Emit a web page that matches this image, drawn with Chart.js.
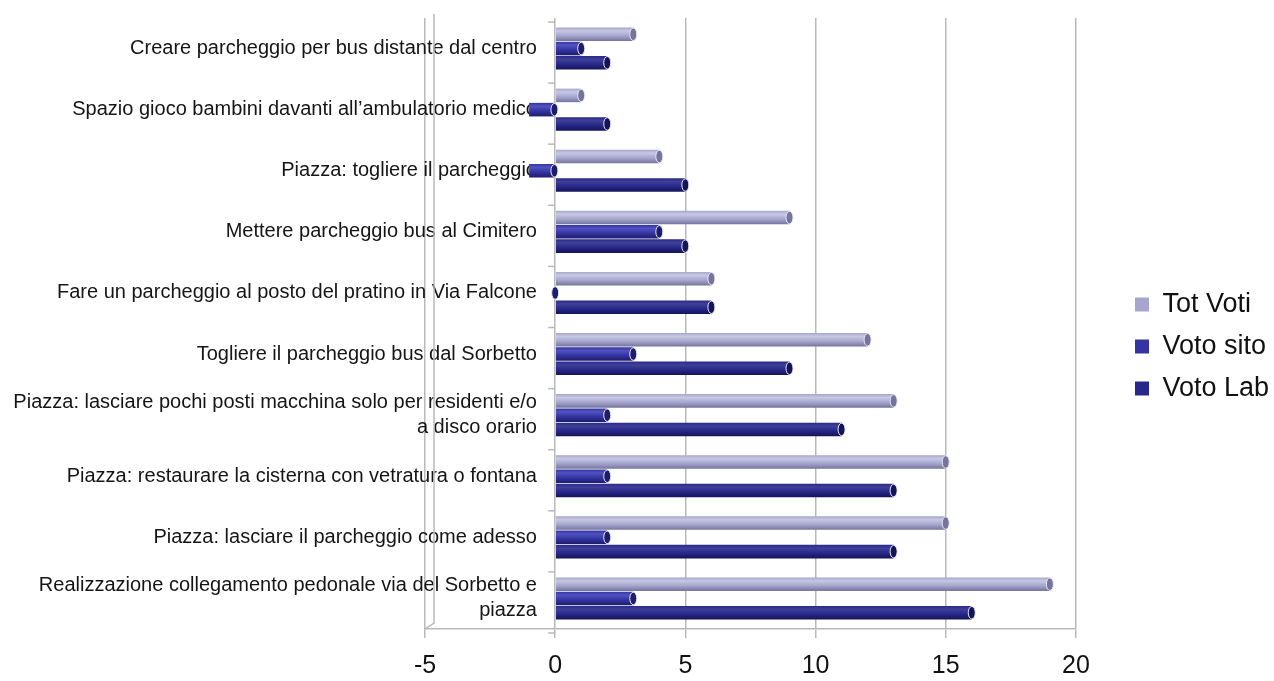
<!DOCTYPE html>
<html>
<head>
<meta charset="utf-8">
<title>Voti proposte</title>
<script src="https://cdn.jsdelivr.net/npm/chart.js@4"></script>
<style>
    html, body { margin: 0; padding: 0; background: #ffffff; }
    #chart { display: block; }
</style>
</head>
<body>
<canvas id="chart" width="1274" height="681"></canvas>
<script>

/* ---------------- DATA ---------------- */

const categories = [
    "Creare parcheggio per bus distante dal centro",
    "Spazio gioco bambini davanti all\u2019ambulatorio medico",
    "Piazza: togliere il parcheggio",
    "Mettere parcheggio bus al Cimitero",
    "Fare un parcheggio al posto del pratino in Via Falcone",
    "Togliere il parcheggio bus dal Sorbetto",
    ["Piazza: lasciare pochi posti macchina solo per residenti e/o", "a disco orario"],
    "Piazza: restaurare la cisterna con vetratura o fontana",
    "Piazza: lasciare il parcheggio come adesso",
    ["Realizzazione collegamento pedonale via del Sorbetto e", "piazza"]
];

const totVoti  = [3, 1, 4, 9, 6, 12, 13, 15, 15, 19];
const votoSito = [1, -1, -1, 4, 0, 3, 2, 2, 2, 3];
const votoLab  = [2, 2, 5, 5, 6, 9, 11, 13, 13, 16];

const xTicks = [-5, 0, 5, 10, 15, 20];

/* ---------------- TUBE LOOK ---------------- */

// colours per series: top highlight, body, bottom shade
const tubeColors = [
    { top: "#c8c8e4", mid: "#a6a6cf", low: "#74749c" },
    { top: "#5252c0", mid: "#3434a2", low: "#1d1d6c" },
    { top: "#40409a", mid: "#28288a", low: "#14145a" }
];

const gridGray = "#b9b9b9";

const tubePlugin = {
    id: "tube",
    afterLayout(chart) {
        // legend sits a bit away from the plot, like the original
        const lg = chart.legend;
        const dx = 1120 - lg.left;
        lg.left += dx;
        lg.right += dx;
        lg.top -= 3;
        lg.bottom -= 3;
    },
    beforeDatasetsDraw(chart) {
        const ctx = chart.ctx;
        const yScale = chart.scales.y;
        const xScale = chart.scales.x;
        const x0 = xScale.getPixelForValue(0);

        ctx.save();
        ctx.strokeStyle = gridGray;
        ctx.lineWidth = 1.5;

        // back-wall edge next to the -5 line
        ctx.beginPath();
        ctx.moveTo(xScale.left + 9, yScale.top - 4);
        ctx.lineTo(xScale.left + 9, yScale.bottom - 6);
        ctx.lineTo(xScale.left, yScale.bottom);
        ctx.stroke();

        // small category ticks on the value-0 wall
        for (let i = 0; i <= categories.length; i++) {
            const y = i === 0 ? yScale.top
                : i === categories.length ? yScale.bottom
                : (yScale.getPixelForTick(i - 1) + yScale.getPixelForTick(i)) / 2;
            ctx.beginPath();
            ctx.moveTo(x0 - 7, y + 4);
            ctx.lineTo(x0, y + 4);
            ctx.stroke();
        }
        ctx.restore();

        chart.data.datasets.forEach((ds, i) => {
            const c = tubeColors[i];
            chart.getDatasetMeta(i).data.forEach((bar) => {
                const p = bar.getProps(["y", "height"], true);
                const g = ctx.createLinearGradient(0, p.y - p.height / 2, 0, p.y + p.height / 2);
                g.addColorStop(0, c.mid);
                g.addColorStop(0.25, c.top);
                g.addColorStop(0.6, c.mid);
                g.addColorStop(1, c.low);
                bar.options = Object.assign({}, bar.options, { backgroundColor: g });
            });
        });
    },
    afterDatasetsDraw(chart) {
        const ctx = chart.ctx;
        chart.data.datasets.forEach((ds, i) => {
            const c = tubeColors[i];
            chart.getDatasetMeta(i).data.forEach((bar) => {
                const p = bar.getProps(["x", "y", "base", "height"], true);
                const endX = Math.max(p.x, p.base);
                ctx.save();
                ctx.beginPath();
                ctx.ellipse(endX, p.y, 3.5, p.height / 2 - 0.5, 0, 0, Math.PI * 2);
                ctx.fillStyle = c.low;
                ctx.fill();
                ctx.lineWidth = 1;
                ctx.strokeStyle = "#e8e8f4";
                ctx.stroke();
                ctx.restore();
            });
        });
    }
};

/* ---------------- CHART ---------------- */

function series(label, values, i) {
    return {
        label: label,
        data: values,
        backgroundColor: tubeColors[i].mid,
        borderWidth: 0,
        categoryPercentage: 0.7,
        barPercentage: 0.95
    };
}

const chart = new Chart(document.getElementById("chart"), {
    type: "bar",
    data: {
        labels: categories,
        datasets: [
            series("Tot Voti", totVoti, 0),
            series("Voto sito", votoSito, 1),
            series("Voto Lab", votoLab, 2)
        ]
    },
    options: {
        indexAxis: "y",
        responsive: false,
        animation: false,
        devicePixelRatio: 1,
        layout: {
            padding: { left: 425, top: 18, right: 39, bottom: 0 }
        },
        scales: {
            x: {
                type: "linear",
                min: -5,
                max: 20,
                afterBuildTicks(scale) {
                    scale.ticks = xTicks.map((v) => ({ value: v }));
                },
                afterFit(scale) {
                    scale.height = Math.min(scale.height, 52);
                },
                grid: {
                    color: gridGray,
                    lineWidth: 1.5,
                    tickLength: 9
                },
                border: { color: gridGray, width: 1.5 },
                ticks: {
                    color: "#111111",
                    padding: 13,
                    font: { family: "Liberation Sans, Arial, sans-serif", size: 25 }
                }
            },
            y: {
                type: "category",
                position: { x: -0.7 },
                afterFit(scale) {
                    scale.paddingTop = 0;
                    scale.paddingBottom = 0;
                },
                grid: { display: false },
                border: { display: false },
                ticks: {
                    color: "#151515",
                    font: { family: "Liberation Sans, Arial, sans-serif", size: 20, lineHeight: 1.25 }
                }
            }
        },
        plugins: {
            legend: {
                position: "right",
                labels: {
                    color: "#111111",
                    boxWidth: 14,
                    boxHeight: 14,
                    padding: 15,
                    font: { family: "Liberation Sans, Arial, sans-serif", size: 27 }
                }
            },
            tooltip: { enabled: false }
        }
    },
    plugins: [tubePlugin]
});

</script>
</body>
</html>
